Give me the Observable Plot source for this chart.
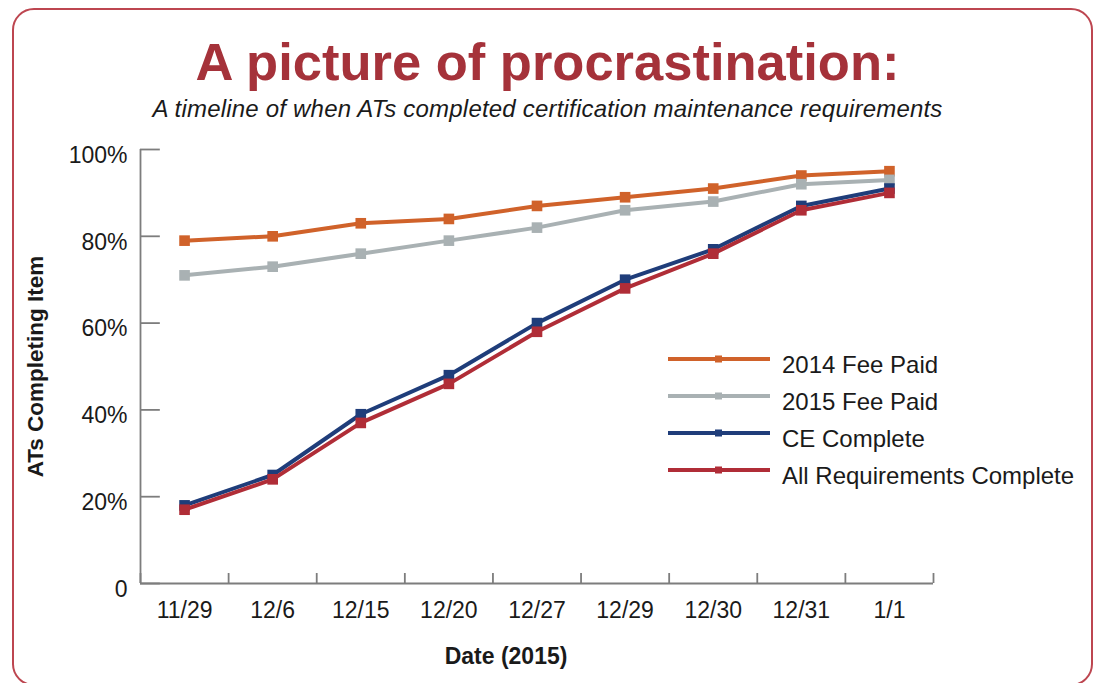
<!DOCTYPE html>
<html>
<head>
<meta charset="utf-8">
<script src="https://cdn.jsdelivr.net/npm/d3@7"></script>
<script src="https://cdn.jsdelivr.net/npm/@observablehq/plot@0.6"></script>
<style>
  html, body { margin: 0; padding: 0; background: #fff; }
  body { width: 1095px; height: 683px; overflow: hidden; position: relative;
         font-family: "Liberation Sans", Arial, Helvetica, sans-serif; }
  #frame { position: absolute; left: 12px; top: 8px; width: 1081px; height: 678px;
           border: 2px solid #bd4650; border-radius: 22px; box-sizing: border-box; }
  #title { position: absolute; left: 0; top: 36px; width: 1095px; text-align: center;
           font-size: 52.5px; line-height: 52px; font-weight: bold; color: #a5323a; }
  #subtitle { position: absolute; left: 0; top: 97px; width: 1095px; text-align: center;
              font-size: 24px; line-height: 24px; font-style: italic; color: #1a1a1a; letter-spacing: 0.2px; }
  #chart { position: absolute; left: 0; top: 130px; }
  #legend { position: absolute; left: 660px; top: 340px; }
</style>
</head>
<body>
<div id="frame"></div>
<div id="title"></div>
<div id="subtitle"></div>
<div id="chart"></div>
<div id="legend"></div>
<script>
const titleText = "A picture of procrastination:";
const subtitleText = "A timeline of when ATs completed certification maintenance requirements";
const xLabel = "Date (2015)";
const yLabel = "ATs Completing Item";

const categories = ["11/29", "12/6", "12/15", "12/20", "12/27", "12/29", "12/30", "12/31", "1/1"];
const fee2014 = [79, 80, 83, 84, 87, 89, 91, 94, 95];
const fee2015 = [71, 73, 76, 79, 82, 86, 88, 92, 93];
const ceComplete = [18, 25, 39, 48, 60, 70, 77, 87, 91];
const allComplete = [17, 24, 37, 46, 58, 68, 76, 86, 90];
const seriesNames = ["2014 Fee Paid", "2015 Fee Paid", "CE Complete", "All Requirements Complete"];
const seriesColors = ["#d0622a", "#a9b1b3", "#1f3d7a", "#b02d37"];
const yTicks = [0, 20, 40, 60, 80, 100];
const yTickLabels = ["0", "20%", "40%", "60%", "80%", "100%"];

document.getElementById("title").textContent = titleText;
document.getElementById("subtitle").textContent = subtitleText;

const seriesValues = [fee2014, fee2015, ceComplete, allComplete];
const data = seriesValues.flatMap((vals, s) =>
  vals.map((v, i) => ({i, date: categories[i], series: seriesNames[s], value: v})));

const xDomain = [-0.5, categories.length - 0.5];
const boundaries = d3.range(categories.length + 1).map(k => k - 0.5);
const axisColor = "#7d7d7d";
const textColor = "#1a1a1a";

const seriesMarks = seriesNames.flatMap((name, s) => {
  const rows = data.filter(d => d.series === name);
  return [
    Plot.line(rows, {x: "i", y: "value", stroke: seriesColors[s], strokeWidth: 4, strokeLinejoin: "round"}),
    Plot.dot(rows, {x: "i", y: "value", symbol: "square", r: 6, fill: seriesColors[s], stroke: "none"})
  ];
});

const plot = Plot.plot({
  width: 1095,
  height: 553,
  marginLeft: 140,
  marginRight: 162,
  marginTop: 19,
  marginBottom: 100,
  style: {fontFamily: "Liberation Sans, Arial, Helvetica, sans-serif", fontSize: "23px", background: "transparent", overflow: "visible", color: textColor},
  x: {domain: xDomain, axis: null},
  y: {domain: [0, 100], axis: null},
  marks: [
    // axes
    Plot.ruleX([xDomain[0]], {y1: 0, y2: 100, stroke: axisColor, strokeWidth: 1.8}),
    Plot.ruleY([0], {x1: xDomain[0], x2: xDomain[1], stroke: axisColor, strokeWidth: 1.8}),
    Plot.ruleY(yTicks, {y: d => d, x1: xDomain[0], x2: xDomain[0] + 0.225, stroke: axisColor, strokeWidth: 1.8}),
    Plot.ruleX(boundaries, {x: d => d, y1: 0, y2: 2.3, stroke: axisColor, strokeWidth: 1.8}),
    // tick labels
    Plot.text(categories, {x: (d, i) => i, text: d => d, frameAnchor: "bottom", lineAnchor: "middle", dy: 27, fontSize: 23, fill: textColor}),
    Plot.text(yTicks, {y: d => d, text: (d, i) => yTickLabels[i], frameAnchor: "left", dx: -13, dy: 6, textAnchor: "end", fontSize: 23, fill: textColor}),
    // axis titles
    Plot.text([yLabel], {text: d => d, frameAnchor: "left", textAnchor: "middle", lineAnchor: "middle", dx: -105, rotate: -90, fontWeight: "bold", fontSize: 22.5, fill: textColor}),
    Plot.text([xLabel], {text: d => d, frameAnchor: "bottom", lineAnchor: "middle", dx: -31, dy: 73, fontWeight: "bold", fontSize: 23, fill: textColor}),
    ...seriesMarks
  ]
});
document.getElementById("chart").appendChild(plot);

// legend
const rowGap = 37;
const legend = d3.select("#legend").append("svg")
  .attr("width", 430).attr("height", 160)
  .style("font-family", "Liberation Sans, Arial, Helvetica, sans-serif");
const rowsG = legend.selectAll("g").data(seriesNames).join("g")
  .attr("transform", (d, i) => `translate(0, ${19 + i * rowGap})`);
rowsG.append("line").attr("x1", 8).attr("x2", 110).attr("y1", 0).attr("y2", 0)
  .attr("stroke", (d, i) => seriesColors[i]).attr("stroke-width", 4);
rowsG.append("rect").attr("x", 55).attr("y", -3.5).attr("width", 7).attr("height", 7)
  .attr("fill", (d, i) => seriesColors[i]);
rowsG.append("text").attr("x", 122).attr("y", 14).attr("font-size", 24).attr("fill", textColor)
  .text(d => d);
</script>
</body>
</html>
